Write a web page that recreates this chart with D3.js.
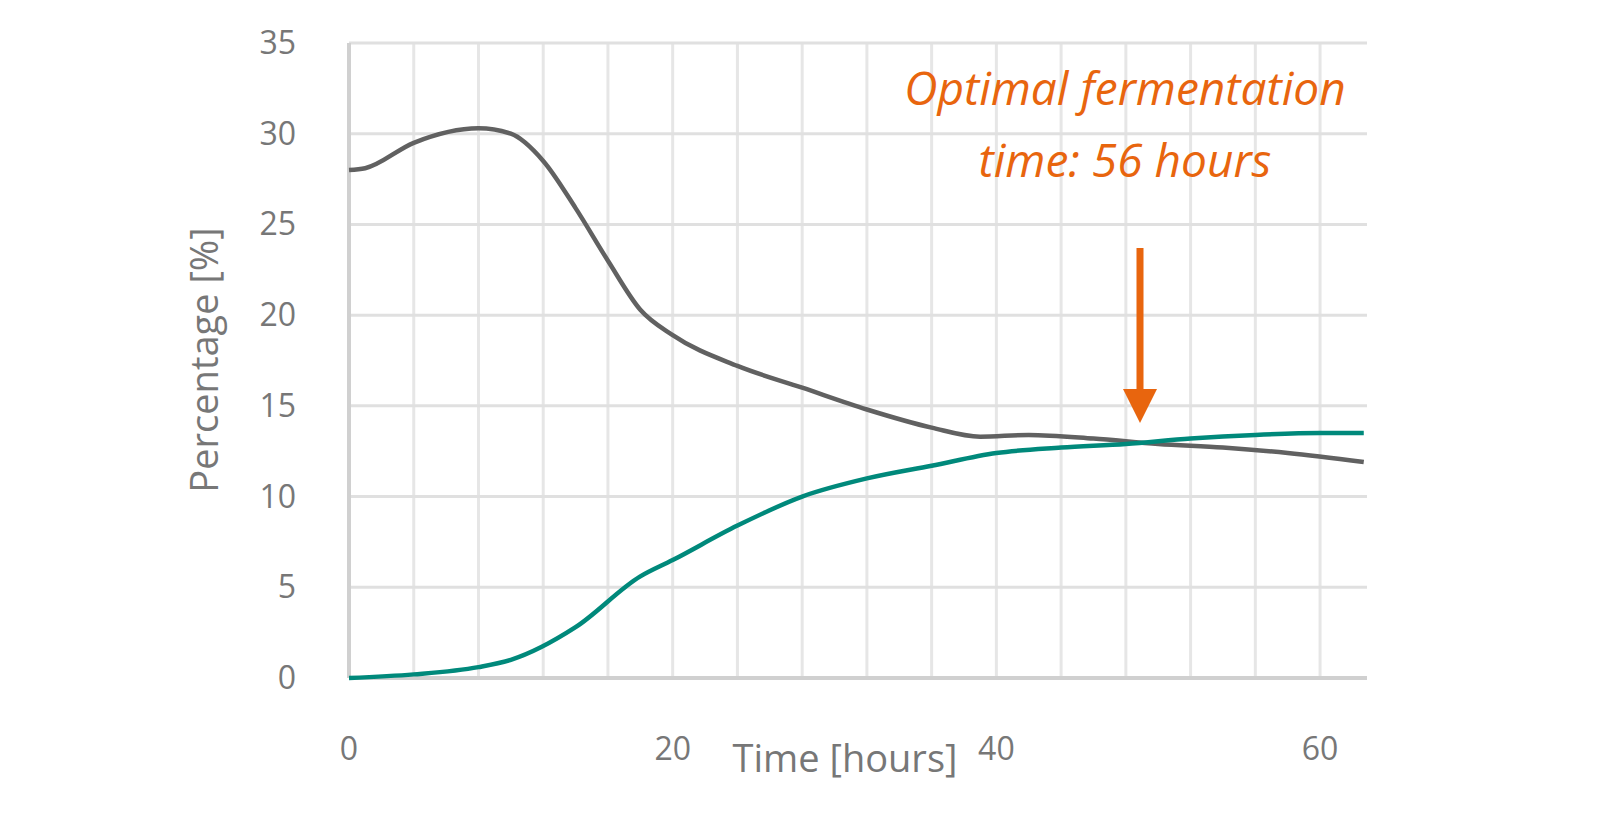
<!DOCTYPE html><html><head><meta charset="utf-8">
<script src="https://cdn.jsdelivr.net/npm/d3@7"></script>
<style>body{margin:0;background:#fff}text{font-family:"Open Sans",sans-serif}</style></head><body>
<svg id="c" width="1600" height="817"></svg>
<script>
const greyX=[0,1,4,8,10,12,14,16,18,20,24,28,32,36,39,42,46,50,54,58,62.7];
const greyY=[28,28.1,29.5,30.3,30,28.5,25.9,23,20.3,18.9,17.2,16,14.8,13.8,13.3,13.4,13.2,12.9,12.7,12.4,11.9];
const tealX=[0,4,8,10,14,18,20,24,28,32,36,40,44,48,52,56,60,62.7];
const tealY=[0,0.2,0.6,1,2.8,5.6,6.5,8.4,10,11,11.7,12.4,12.7,12.9,13.2,13.4,13.5,13.5];
const xTicks=[0,20,40,60];
const yTicks=[0,5,10,15,20,25,30,35];
const svg=d3.select("#c");
const x=d3.scaleLinear().domain([0,62.9]).range([349,1367]);
const y=d3.scaleLinear().domain([0,35]).range([678,43]);
const g=svg.append("g");
d3.range(4,63,4).forEach(v=>g.append("line").attr("x1",x(v)).attr("x2",x(v)).attr("y1",y(35)).attr("y2",y(0)).attr("stroke","#e6e6e6").attr("stroke-width",3));
yTicks.forEach(v=>g.append("line").attr("x1",x(0)).attr("x2",1367).attr("y1",y(v)).attr("y2",y(v)).attr("stroke","#e0e0e0").attr("stroke-width",3));
g.append("line").attr("x1",x(0)).attr("x2",x(0)).attr("y1",y(35)).attr("y2",y(0)).attr("stroke","#d0d0d0").attr("stroke-width",4);
g.append("line").attr("x1",x(0)).attr("x2",1367).attr("y1",y(0)).attr("y2",y(0)).attr("stroke","#d0d0d0").attr("stroke-width",4);
yTicks.forEach(v=>g.append("text").attr("x",296).attr("y",y(v)+11).attr("text-anchor","end").attr("font-size",32).attr("fill","#777").text(v));
xTicks.forEach(v=>g.append("text").attr("x",x(v)).attr("y",760).attr("text-anchor","middle").attr("font-size",32).attr("fill","#777").text(v));
g.append("text").attr("x",845).attr("y",772).attr("text-anchor","middle").attr("font-size",38).attr("fill","#777").text("Time [hours]");
g.append("text").attr("transform","translate(218,360) rotate(-90)").attr("text-anchor","middle").attr("font-size",38).attr("fill","#777").text("Percentage [%]");
const line=d3.line().curve(d3.curveMonotoneX);
g.append("path").attr("d",line(greyX.map((d,i)=>[x(d),y(greyY[i])]))).attr("fill","none").attr("stroke","#616161").attr("stroke-width",4.5);
g.append("path").attr("d",line(tealX.map((d,i)=>[x(d),y(tealY[i])]))).attr("fill","none").attr("stroke","#00897b").attr("stroke-width",4.5);
const o="#e8650e";
g.append("line").attr("x1",1140).attr("x2",1140).attr("y1",248).attr("y2",392).attr("stroke",o).attr("stroke-width",7);
g.append("path").attr("d","M1123,389 L1157,389 L1140,423 Z").attr("fill",o);
g.append("text").attr("x",1125).attr("y",105).attr("text-anchor","middle").attr("font-size",46).attr("font-style","italic").attr("fill",o).text("Optimal fermentation");
g.append("text").attr("x",1125).attr("y",177).attr("text-anchor","middle").attr("font-size",46).attr("font-style","italic").attr("fill",o).text("time: 56 hours");
</script></body></html>
